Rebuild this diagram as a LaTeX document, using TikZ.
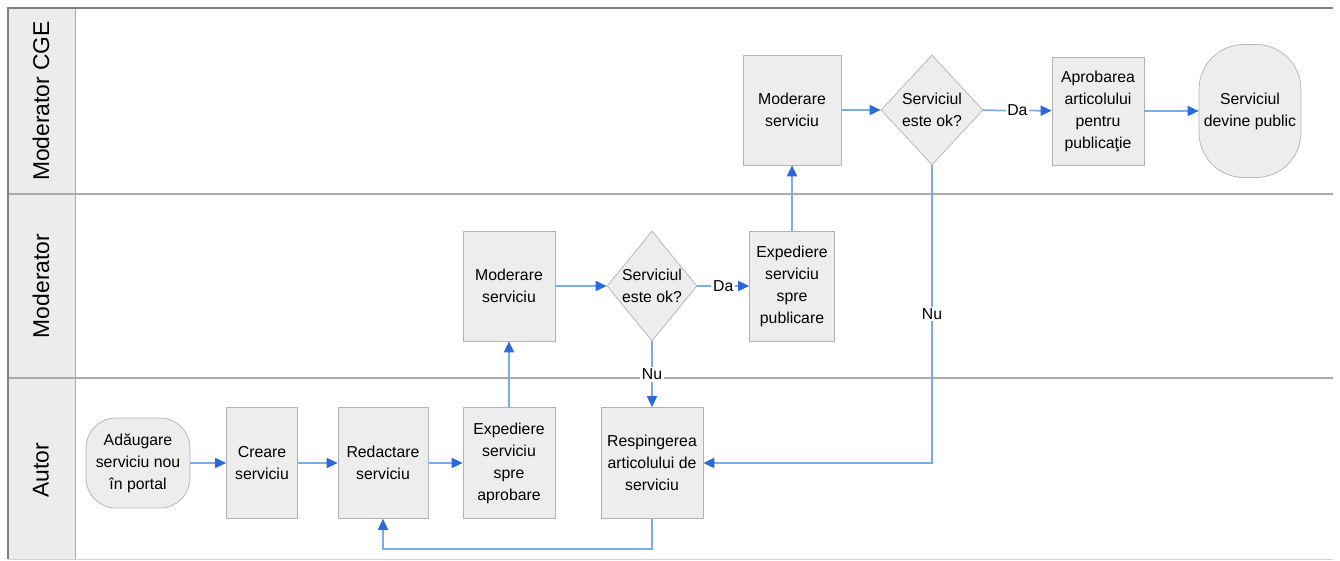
\documentclass[tikz,border=0pt]{standalone}
\usepackage{fontspec}
\setmainfont{Liberation Sans}
\usepackage{tikz}
\usetikzlibrary{arrows.meta}
\usetikzlibrary{shapes.geometric}
\usetikzlibrary{calc}

\definecolor{lanegray}{RGB}{170,170,170}
\definecolor{boxfill}{RGB}{237,237,237}
\definecolor{boxline}{RGB}{178,178,178}
\definecolor{edgeblue}{RGB}{125,170,232}
\definecolor{tipblue}{RGB}{40,105,222}

\begin{document}
\begin{tikzpicture}[x=0.2mm, y=-0.2mm, font=\fontsize{9}{12.5}\selectfont,
        task_style/.style={rectangle,draw=boxline,fill=boxfill,thin,align=center,inner sep=1pt,minimum height=22.2mm},
        decision_style/.style={diamond,draw=boxline,fill=boxfill,thin,align=center,inner sep=0pt,aspect=0.82,minimum height=22mm},
        terminal_style/.style={rectangle,rounded corners=6mm,draw=boxline,fill=boxfill,thin,align=center,inner sep=1pt},
        lane_style/.style={font=\fontsize{13}{15}\selectfont,rotate=90},
        edge_style/.style={draw=edgeblue, line width=1pt, -{Triangle[length=2.2mm,width=2mm,color=tipblue]}},
        label_style/.style={fill=white,inner sep=1pt}]

        \useasboundingbox (0,0) rectangle (1340,561);

        % lanes
        \fill [lanegray!22] (8,8) rectangle (75,559);
        \draw [lanegray, line width=0.9pt] (8,194) -- (1333,194);
        \draw [lanegray, line width=0.9pt] (8,378) -- (1333,378);
        \draw [lanegray!50] (8,559) -- (1333,559);
        \draw [lanegray] (75,8) -- (75,559);
        \draw [gray, line width=1.2pt] (1333,8) -- (8,8) -- (8,559);

        \node [lane_style](l1) at (41,101) {Moderator CGE};
        \node [lane_style](l2) at (41,286) {Moderator};
        \node [lane_style](l3) at (41,470) {Autor};

        % Autor
        \node [terminal_style, minimum width=20.8mm, minimum height=18mm](n1) at (138,463) {Adăugare\\serviciu nou\\în portal};
        \node [task_style, minimum width=14.2mm](n2) at (262,463) {Creare\\serviciu};
        \node [task_style, minimum width=18mm](n3) at (383,463) {Redactare\\serviciu};
        \node [task_style, minimum width=18.4mm](n4) at (509,463) {Expediere\\serviciu\\spre\\aprobare};
        \node [task_style, minimum width=20.4mm](n5) at (652,463) {Respingerea\\articolului de\\serviciu};

        % Moderator
        \node [task_style, minimum width=18.4mm, minimum height=22mm](n6) at (509,286) {Moderare\\serviciu};
        \node [decision_style, minimum width=18mm](n7) at (652,286) {Serviciul\\este ok?};
        \node [task_style, minimum width=17mm, minimum height=22mm](n8) at (792,286) {Expediere\\serviciu\\spre\\publicare};

        % Moderator CGE
        \node [task_style, minimum width=19.6mm, minimum height=22mm](n9) at (792,110) {Moderare\\serviciu};
        \node [decision_style, minimum width=20.4mm](n10) at (932,110) {Serviciul\\este ok?};
        \node [task_style, minimum width=18.4mm, minimum height=21.6mm](n11) at (1098,111) {Aprobarea\\articolului\\pentru\\publicaţie};
        \node [terminal_style, rounded corners=9mm, minimum width=20.4mm, minimum height=26.6mm](n12) at (1250,111) {Serviciul\\devine public};

        \draw [edge_style] (n1) -- (n2);
        \draw [edge_style] (n2) -- (n3);
        \draw [edge_style] (n3) -- (n4);
        \draw [edge_style] (n4) -- (n6);
        \draw [edge_style] (n6) -- (n7);
        \draw [edge_style] (n7) -- node[label_style]{Da} (n8);
        \draw [edge_style] (n7) -- node[label_style]{Nu} (n5);
        \draw [edge_style] (n8) -- (n9);
        \draw [edge_style] (n9) -- (n10);
        \draw [edge_style] (n10) -- node[label_style]{Da} (n11);
        \draw [edge_style] (n11) -- (n12);
        \draw [edge_style] (n10.south) |- node[label_style, pos=0.25]{Nu} (n5.east);
        \draw [edge_style] (n5.south) -- ++(0,30) -| (n3.south);
\end{tikzpicture}
\end{document}
